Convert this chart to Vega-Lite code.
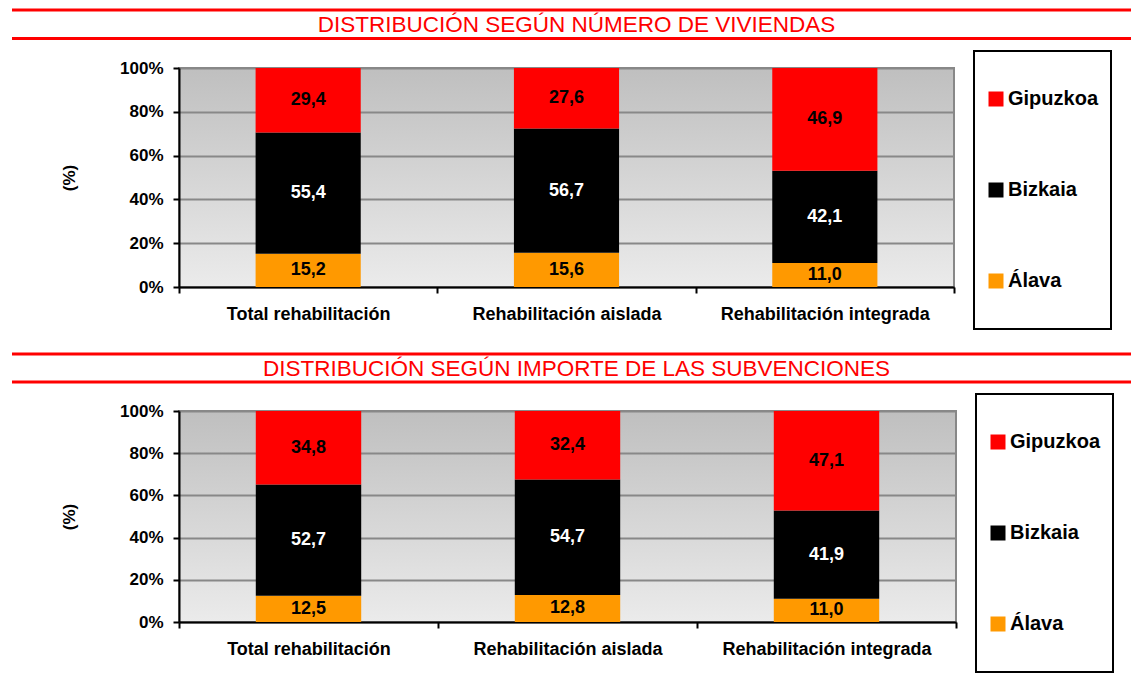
{
  "$schema": "https://vega.github.io/schema/vega-lite/v6.json",
  "padding": {"left": 10, "top": 8, "right": 0, "bottom": 0},
  "background": "#ffffff",
  "datasets": {
    "datos": [
      {"grafico": "viviendas", "tipo": "Total rehabilitación", "provincia": "Álava", "valor": 15.2, "orden": 1},
      {"grafico": "viviendas", "tipo": "Total rehabilitación", "provincia": "Bizkaia", "valor": 55.4, "orden": 2},
      {"grafico": "viviendas", "tipo": "Total rehabilitación", "provincia": "Gipuzkoa", "valor": 29.4, "orden": 3},
      {"grafico": "viviendas", "tipo": "Rehabilitación aislada", "provincia": "Álava", "valor": 15.6, "orden": 1},
      {"grafico": "viviendas", "tipo": "Rehabilitación aislada", "provincia": "Bizkaia", "valor": 56.7, "orden": 2},
      {"grafico": "viviendas", "tipo": "Rehabilitación aislada", "provincia": "Gipuzkoa", "valor": 27.6, "orden": 3},
      {"grafico": "viviendas", "tipo": "Rehabilitación integrada", "provincia": "Álava", "valor": 11.0, "orden": 1},
      {"grafico": "viviendas", "tipo": "Rehabilitación integrada", "provincia": "Bizkaia", "valor": 42.1, "orden": 2},
      {"grafico": "viviendas", "tipo": "Rehabilitación integrada", "provincia": "Gipuzkoa", "valor": 46.9, "orden": 3},
      {"grafico": "subvenciones", "tipo": "Total rehabilitación", "provincia": "Álava", "valor": 12.5, "orden": 1},
      {"grafico": "subvenciones", "tipo": "Total rehabilitación", "provincia": "Bizkaia", "valor": 52.7, "orden": 2},
      {"grafico": "subvenciones", "tipo": "Total rehabilitación", "provincia": "Gipuzkoa", "valor": 34.8, "orden": 3},
      {"grafico": "subvenciones", "tipo": "Rehabilitación aislada", "provincia": "Álava", "valor": 12.8, "orden": 1},
      {"grafico": "subvenciones", "tipo": "Rehabilitación aislada", "provincia": "Bizkaia", "valor": 54.7, "orden": 2},
      {"grafico": "subvenciones", "tipo": "Rehabilitación aislada", "provincia": "Gipuzkoa", "valor": 32.4, "orden": 3},
      {"grafico": "subvenciones", "tipo": "Rehabilitación integrada", "provincia": "Álava", "valor": 11.0, "orden": 1},
      {"grafico": "subvenciones", "tipo": "Rehabilitación integrada", "provincia": "Bizkaia", "valor": 41.9, "orden": 2},
      {"grafico": "subvenciones", "tipo": "Rehabilitación integrada", "provincia": "Gipuzkoa", "valor": 47.1, "orden": 3}
    ]
  },
  "config": {
    "font": "Liberation Sans",
    "locale": {"number": {"decimal": ",", "thousands": ".", "grouping": [3], "currency": ["", " €"]}},
    "view": {"stroke": null},
    "axis": {
      "domainColor": "#000000", "domainWidth": 2,
      "tickColor": "#000000", "tickWidth": 2, "tickSize": 6,
      "labelColor": "#000000", "labelFontWeight": "bold", "labelFont": "Liberation Sans",
      "titleColor": "#000000", "titleFont": "Liberation Sans"
    },
    "legend": {
      "title": null,
      "symbolType": "square", "symbolSize": 225, "symbolStrokeWidth": 0,
      "labelFont": "Liberation Sans", "labelFontSize": 20, "labelFontWeight": "bold", "labelColor": "#000000",
      "labelOffset": 2, "padding": 12,
      "strokeColor": "#000000", "strokeWidth": 2, "fillColor": "#ffffff",
      "clipHeight": 72, "rowPadding": 19
    }
  },
  "resolve": {"scale": {"color": "independent", "y": "independent", "x": "independent"}, "legend": {"color": "independent"}},
  "spacing": 21,
  "vconcat": [
    {
      "resolve": {"scale": {"color": "independent", "y": "independent", "x": "independent"}, "legend": {"color": "independent"}},
      "spacing": 9,
      "vconcat": [
        {
          "width": 954, "height": 28.5,
          "data": {"values": [{"titulo": "DISTRIBUCIÓN SEGÚN NÚMERO DE VIVIENDAS"}]},
          "encoding": {
            "x": {"datum": 0, "type": "quantitative", "scale": {"domain": [0, 1], "range": [-167, 954], "nice": false, "zero": false}, "axis": null},
            "x2": {"datum": 1}
          },
          "layer": [
            {"mark": {"type": "rule", "color": "#ff0000", "strokeWidth": 3}, "encoding": {"y": {"datum": 0, "type": "quantitative", "scale": {"domain": [0, 1]}, "axis": null}}},
            {"mark": {"type": "rule", "color": "#ff0000", "strokeWidth": 3}, "encoding": {"y": {"datum": 1, "type": "quantitative", "axis": null}}},
            {"mark": {"type": "text", "color": "#ff0000", "fontSize": 22.5, "font": "Liberation Sans", "dx": 4, "dy": 1},
              "encoding": {"x": {"datum": 0.5, "type": "quantitative", "axis": null}, "x2": null, "text": {"field": "titulo"}}}
          ]
        },
        {
          "width": 775, "height": 219,
          "view": {"stroke": "#888888", "strokeWidth": 2, "fill": {"gradient": "linear", "x1": 0, "y1": 0, "x2": 0, "y2": 1, "stops": [{"offset": 0, "color": "#bfbfbf"}, {"offset": 1, "color": "#ebebeb"}]}},
          "data": {"name": "datos"},
          "transform": [{"filter": "datum.grafico === 'viviendas'"}],
          "encoding": {
            "x": {"field": "tipo", "type": "nominal", "sort": ["Total rehabilitación", "Rehabilitación aislada", "Rehabilitación integrada"], "scale": {"paddingInner": 0, "paddingOuter": 0},
              "axis": {"title": null, "labelAngle": 0, "labelFontSize": 18, "labelPadding": 12, "labelLimit": 400, "tickBand": "extent", "grid": false}},
            "order": {"field": "orden", "type": "quantitative"}
          },
          "layer": [
            {
              "mark": {"type": "bar", "width": {"band": 0.407}},
              "encoding": {
                "y": {"field": "valor", "type": "quantitative", "stack": "normalize",
                  "axis": {"title": "(%)", "titleFontSize": 17, "titleFontWeight": "bold", "titlePadding": 41,
                    "format": ".0%", "values": [0, 0.2, 0.4, 0.6, 0.8, 1], "labelFontSize": 17, "labelPadding": 10,
                    "grid": true, "gridColor": "#888888", "gridWidth": 2}},
                "color": {"field": "provincia", "type": "nominal",
                  "scale": {"domain": ["Gipuzkoa", "Bizkaia", "Álava"], "range": ["#ff0000", "#000000", "#ff9900"]},
                  "legend": {"orient": "none", "legendX": 795, "legendY": -17}}
              }
            },
            {
              "mark": {"type": "text", "fontSize": 18, "fontWeight": "bold", "font": "Liberation Sans"},
              "encoding": {
                "y": {"field": "valor", "type": "quantitative", "stack": "normalize", "bandPosition": 0.5,
                  "axis": {"title": "(%)", "titleFontSize": 17, "titleFontWeight": "bold", "titlePadding": 41,
                    "format": ".0%", "values": [0, 0.2, 0.4, 0.6, 0.8, 1], "labelFontSize": 17, "labelPadding": 10,
                    "grid": true, "gridColor": "#888888", "gridWidth": 2}},
                "detail": {"field": "provincia"},
                "text": {"field": "valor", "type": "quantitative", "format": ".1f"},
                "color": {"condition": {"test": "datum.provincia === 'Bizkaia'", "value": "#ffffff"}, "value": "#000000"}
              }
            }
          ]
        }
      ]
    },
    {
      "resolve": {"scale": {"color": "independent", "y": "independent", "x": "independent"}, "legend": {"color": "independent"}},
      "spacing": 8,
      "vconcat": [
        {
          "width": 954, "height": 28,
          "data": {"values": [{"titulo": "DISTRIBUCIÓN SEGÚN IMPORTE DE LAS SUBVENCIONES"}]},
          "encoding": {
            "x": {"datum": 0, "type": "quantitative", "scale": {"domain": [0, 1], "range": [-167, 954], "nice": false, "zero": false}, "axis": null},
            "x2": {"datum": 1}
          },
          "layer": [
            {"mark": {"type": "rule", "color": "#ff0000", "strokeWidth": 3}, "encoding": {"y": {"datum": 0, "type": "quantitative", "scale": {"domain": [0, 1]}, "axis": null}}},
            {"mark": {"type": "rule", "color": "#ff0000", "strokeWidth": 3}, "encoding": {"y": {"datum": 1, "type": "quantitative", "axis": null}}},
            {"mark": {"type": "text", "color": "#ff0000", "fontSize": 22.5, "font": "Liberation Sans", "dx": 4, "dy": 1},
              "encoding": {"x": {"datum": 0.5, "type": "quantitative", "axis": null}, "x2": null, "text": {"field": "titulo"}}}
          ]
        },
        {
          "width": 777, "height": 211,
          "view": {"stroke": "#888888", "strokeWidth": 2, "fill": {"gradient": "linear", "x1": 0, "y1": 0, "x2": 0, "y2": 1, "stops": [{"offset": 0, "color": "#bfbfbf"}, {"offset": 1, "color": "#ebebeb"}]}},
          "data": {"name": "datos"},
          "transform": [{"filter": "datum.grafico === 'subvenciones'"}],
          "encoding": {
            "x": {"field": "tipo", "type": "nominal", "sort": ["Total rehabilitación", "Rehabilitación aislada", "Rehabilitación integrada"], "scale": {"paddingInner": 0, "paddingOuter": 0},
              "axis": {"title": null, "labelAngle": 0, "labelFontSize": 18, "labelPadding": 12, "labelLimit": 400, "tickBand": "extent", "grid": false}},
            "order": {"field": "orden", "type": "quantitative"}
          },
          "layer": [
            {
              "mark": {"type": "bar", "width": {"band": 0.407}},
              "encoding": {
                "y": {"field": "valor", "type": "quantitative", "stack": "normalize",
                  "axis": {"title": "(%)", "titleFontSize": 17, "titleFontWeight": "bold", "titlePadding": 41,
                    "format": ".0%", "values": [0, 0.2, 0.4, 0.6, 0.8, 1], "labelFontSize": 17, "labelPadding": 10,
                    "grid": true, "gridColor": "#888888", "gridWidth": 2}},
                "color": {"field": "provincia", "type": "nominal",
                  "scale": {"domain": ["Gipuzkoa", "Bizkaia", "Álava"], "range": ["#ff0000", "#000000", "#ff9900"]},
                  "legend": {"orient": "none", "legendX": 797, "legendY": -17}}
              }
            },
            {
              "mark": {"type": "text", "fontSize": 18, "fontWeight": "bold", "font": "Liberation Sans"},
              "encoding": {
                "y": {"field": "valor", "type": "quantitative", "stack": "normalize", "bandPosition": 0.5,
                  "axis": {"title": "(%)", "titleFontSize": 17, "titleFontWeight": "bold", "titlePadding": 41,
                    "format": ".0%", "values": [0, 0.2, 0.4, 0.6, 0.8, 1], "labelFontSize": 17, "labelPadding": 10,
                    "grid": true, "gridColor": "#888888", "gridWidth": 2}},
                "detail": {"field": "provincia"},
                "text": {"field": "valor", "type": "quantitative", "format": ".1f"},
                "color": {"condition": {"test": "datum.provincia === 'Bizkaia'", "value": "#ffffff"}, "value": "#000000"}
              }
            }
          ]
        }
      ]
    }
  ]
}
